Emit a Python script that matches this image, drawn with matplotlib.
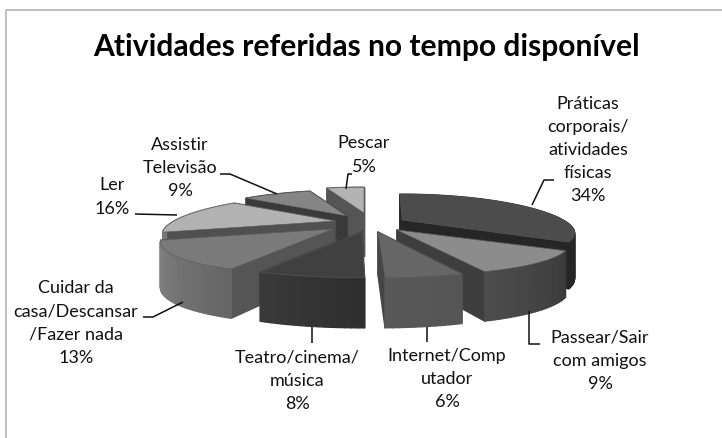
"""Exploded 3D pie of free-time activities, drawn as projected polygons."""
import numpy as np
import matplotlib
matplotlib.use('Agg')
import matplotlib.pyplot as plt
from matplotlib.patches import Polygon

TITLE = 'Atividades referidas no tempo disponível'
labels = [
    'Práticas\ncorporais/\natividades\nfísicas\n34%',
    'Passear/Sair\ncom amigos\n9%',
    'Internet/Comp\nutador\n6%',
    'Teatro/cinema/\nmúsica\n8%',
    'Cuidar da\ncasa/Descansar\n/Fazer nada\n13%',
    'Ler\n16%',
    'Assistir\nTelevisão\n9%',
    'Pescar\n5%',
]
values = [34, 9, 6, 8, 13, 16, 9, 5]

# pixel layout of each slice: apex, label centre, leader line
apex = [(402, 220), (397, 230), (378, 232), (362, 232), (333, 229), (335, 221), (347, 216), (364, 213)]
label_pos = [(588, 150), (600, 361), (447, 379), (297, 381), (76, 323), (112, 197), (180, 168), (364, 155)]
leaders = [
    [(532, 205), (544, 180), (554, 180)],
    [(529, 311), (529, 344), (540, 344)],
    [(427, 327), (427, 342)],
    [(311.5, 327), (311.5, 343)],
    [(183, 302), (153, 317), (143, 317)],
    [(135, 214), (177, 215)],
    [(277, 194), (230, 174), (220, 174)],
    [(346, 189), (348, 174), (352, 174)],
]
top_col = ['#4c4c4c', '#8c8c8c', '#666666', '#404040', '#7a7a7a', '#b2b2b2', '#858585', '#b3b3b3']
cut_col = ['#262626', '#3e3e3e', '#454545', '#333333', '#555555', '#505050', '#3a3a3a', '#555555']
wall_a = ['#222222', '#3a3a3a', '#555555', '#2e2e2e', '#666666', '#777777', '#444444', '#555555']
wall_b = ['#262626', '#4c4c4c', '#585858', '#3a3a3a', '#858585', '#888888', '#444444', '#555555']
# nudges in degrees: the projection is only close to the original perspective
start_nudge = [-1, 0, 5, 3, 0, 0, 0, 0]
end_nudge = [2, 4, 2, 0, 0, 0, 0, 0]
# order back to front so nearer slices cover farther ones
draw_order = [7, 6, 5, 0, 4, 1, 2, 3]

RX, SY, KX, KY, DEPTH, KD = 161, 33, 0.36, 0.28, 43, 0.14


def project(ap, theta):
    """Map a rim angle (clockwise from the top) to pixels around an apex."""
    u, v = np.sin(theta), np.cos(theta)
    return ap[0] + RX * u / (1 + KX * v), ap[1] - SY * v / (1 + KY * v)


def drop(v):
    """Screen height of the slice wall at depth v."""
    return DEPTH / (1 + KD * v)


def mix(c1, c2, t):
    a = np.array(matplotlib.colors.to_rgb(c1))
    b = np.array(matplotlib.colors.to_rgb(c2))
    return tuple(a + (b - a) * t)


def main():
    fig = plt.figure(figsize=(7.22, 4.38), dpi=100)
    ax = fig.add_axes([0, 0, 1, 1])
    ax.set_xlim(0, 722)
    ax.set_ylim(438, 0)
    ax.axis('off')

    # chart frame
    ax.plot([6, 6, 722], [438, 10, 10], color='#b4b4b4', lw=1.2)

    edges = np.cumsum([0] + values) / sum(values) * 2 * np.pi
    for i in draw_order:
        t0 = edges[i] + np.radians(start_nudge[i])
        t1 = edges[i + 1] + np.radians(end_nudge[i])
        ap = apex[i]
        faces = []
        # flat cut walls
        for t in (t0, t1):
            x, y = project(ap, t)
            v = np.cos(t)
            d = drop(v)
            faces.append((v / 2, [(ap[0], ap[1]), (x, y), (x, y + d), (ap[0], ap[1] + drop(0))], cut_col[i]))
        # curved rim wall, split so it shades along the arc
        ts = np.linspace(t0, t1, max(int((t1 - t0) * 40), 4))
        for j in range(len(ts) - 1):
            a, b = ts[j], ts[j + 1]
            xa, ya = project(ap, a)
            xb, yb = project(ap, b)
            v = (np.cos(a) + np.cos(b)) / 2
            colr = mix(wall_a[i], wall_b[i], j / (len(ts) - 2))
            faces.append((v, [(xa, ya), (xb, yb), (xb, yb + drop(np.cos(b))), (xa, ya + drop(np.cos(a)))], colr))
        for v, pts, colr in sorted(faces, key=lambda f: -f[0]):
            ax.add_patch(Polygon(pts, closed=True, fc=colr, ec=colr, lw=1.0, joinstyle='round'))
        arc = [project(ap, t) for t in np.linspace(t0, t1, 60)]
        ax.add_patch(Polygon([ap] + arc, closed=True, fc=top_col[i], ec='#5a5a5a', lw=0.4))

    for line in leaders:
        xs, ys = zip(*line)
        ax.plot(xs, ys, color='#111111', lw=1.1, solid_capstyle='butt')

    for text, pos in zip(labels, label_pos):
        ax.text(pos[0], pos[1], text, ha='center', va='center', family='Lato',
                fontsize=13, color='#111111', linespacing=1.55)

    ax.text(366, 47, TITLE, ha='center', va='center', family='Lato',
            fontsize=21.6, fontweight='bold', color='black')

    fig.savefig('out.png', dpi=100)


if __name__ == '__main__':
    main()
